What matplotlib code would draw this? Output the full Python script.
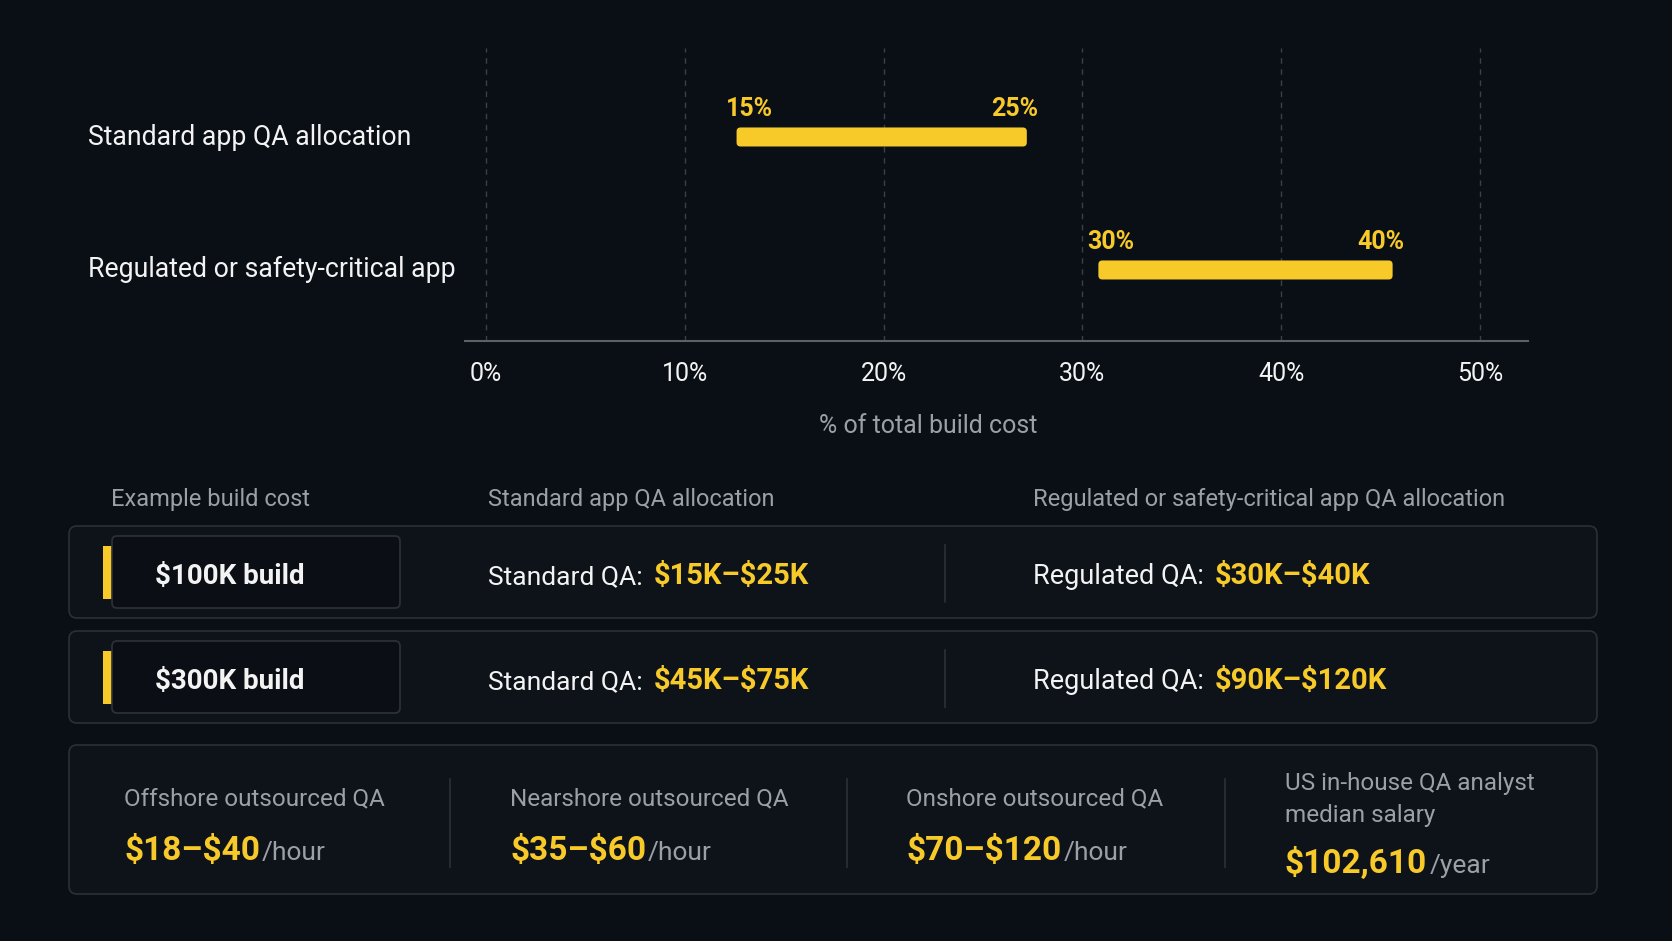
import matplotlib
matplotlib.use('Agg')
import matplotlib.pyplot as plt
from matplotlib.patches import FancyBboxPatch, Rectangle

W, H = 1672, 941

# range chart
categories = ['Standard app QA allocation', 'Regulated or safety-critical app']
range_lo = [12.6, 30.8]   # where the bars are drawn in the picture
range_hi = [27.2, 45.6]
lo_labels = ['15%', '30%']
hi_labels = ['25%', '40%']
x_ticks = [0, 10, 20, 30, 40, 50]
x_title = '% of total build cost'

# example build table
table_headers = ['Example build cost', 'Standard app QA allocation',
                 'Regulated or safety-critical app QA allocation']
builds = ['$100K build', '$300K build']
standard_qa = ['$15K–$25K', '$45K–$75K']
regulated_qa = ['$30K–$40K', '$90K–$120K']

# rate cards
rate_titles = ['Offshore outsourced QA', 'Nearshore outsourced QA',
               'Onshore outsourced QA', 'US in-house QA analyst\nmedian salary']
rate_values = ['$18–$40', '$35–$60', '$70–$120', '$102,610']
rate_units = ['/hour', '/hour', '/hour', '/year']

BG = '#0a0e15'
PANEL = '#0e131a'
EDGE = '#2a3038'
YELLOW = '#f7ca2a'
WHITE = '#f3f3f3'
GRAY = '#9ba0a8'

plt.rcParams['font.family'] = ['Roboto', 'DejaVu Sans']
plt.rcParams['text.parse_math'] = False  # dollar signs are plain text here

fig = plt.figure(figsize=(W / 100, H / 100), dpi=100, facecolor=BG)

# overlay in pixel coordinates for the panels and free text
ov = fig.add_axes([0, 0, 1, 1])
ov.set_xlim(0, W)
ov.set_ylim(H, 0)
ov.axis('off')

ax = fig.add_axes([465 / W, 1 - 341 / H, 1063 / W, 293 / H])
ax.set_facecolor('none')
xlim = (-1.06, 52.41)
ylim = (1.534, -0.669)
ax.set_xlim(*xlim)
ax.set_ylim(*ylim)

bar_h = 0.143
px_x = 1063 / (xlim[1] - xlim[0])
px_y = 293 / (ylim[0] - ylim[1])
bars = ax.barh(range(len(categories)), [h - l for l, h in zip(range_lo, range_hi)],
               left=range_lo, height=bar_h, color=YELLOW)
for b in bars:
    b.set_visible(False)
    ax.add_patch(FancyBboxPatch((b.get_x(), b.get_y()), b.get_width(), b.get_height(),
                                boxstyle='round,pad=0,rounding_size=%f' % (4 / px_x),
                                mutation_aspect=px_x / px_y, fc=YELLOW, ec='none', zorder=3))

for i in range(len(categories)):
    top = i - bar_h / 2
    ax.annotate(lo_labels[i], xy=(range_lo[i], top), xytext=(-8, 8.6),
                textcoords='offset points', ha='left', va='baseline',
                color=YELLOW, fontsize=18, fontweight='bold')
    ax.annotate(hi_labels[i], xy=(range_hi[i], top), xytext=(8.5, 8.6),
                textcoords='offset points', ha='right', va='baseline',
                color=YELLOW, fontsize=18, fontweight='bold')

ax.set_xticks(x_ticks)
ax.set_xticklabels(['%d%%' % t for t in x_ticks])
ax.set_yticks([])
ax.grid(axis='x', color='#3a3f48', linestyle=(0, (4, 4)), linewidth=1)
ax.set_axisbelow(True)
ax.tick_params(axis='x', length=0, pad=15, labelsize=18, labelcolor=WHITE)
for s in ['top', 'left', 'right']:
    ax.spines[s].set_visible(False)
ax.spines['bottom'].set_color('#5b616b')
ax.spines['bottom'].set_linewidth(1.5)

cat_base = [145, 277]
for name, yb in zip(categories, cat_base):
    ov.text(88, yb, name, color=WHITE, fontsize=19.2, va='baseline', ha='left')
ov.text(928, 426, x_title, color=GRAY, fontsize=18, ha='center', va='center')


def put_after(t, s, gap, y, **kw):
    r = fig.canvas.get_renderer()
    bb = t.get_window_extent(r)
    x = ov.transData.inverted().transform((bb.x1, 0))[0]
    return ov.text(x + gap, y, s, va='baseline', ha='left', **kw)


# table
for x, h in zip([111, 488, 1033], table_headers):
    ov.text(x, 499, h, color=GRAY, fontsize=17, va='center', ha='left')

for i in range(len(builds)):
    top = 526 + 105 * i
    ov.add_patch(FancyBboxPatch((69, top), 1528, 92, boxstyle='round,pad=0,rounding_size=8',
                                fc=PANEL, ec=EDGE, lw=1.2))
    ov.add_patch(Rectangle((103, top + 20), 9, 53, fc=YELLOW, ec='none'))
    ov.add_patch(FancyBboxPatch((112, top + 10), 288, 72, boxstyle='round,pad=0,rounding_size=5',
                                fc='#0b0f15', ec='#2d323b', lw=1.2))
    ov.plot([945, 945], [top + 19, top + 76], color=EDGE, lw=1.2)
    yb = top + 58
    ov.text(155, yb, builds[i], color=WHITE, fontsize=20, fontweight='bold', va='baseline')
    t = ov.text(488, yb, 'Standard QA:', color=WHITE, fontsize=19, va='baseline')
    put_after(t, standard_qa[i], 11, yb, color=YELLOW, fontsize=21, fontweight='bold')
    t = ov.text(1033, yb, 'Regulated QA:', color=WHITE, fontsize=19.5, va='baseline')
    put_after(t, regulated_qa[i], 11, yb, color=YELLOW, fontsize=21, fontweight='bold')

# rate cards
ov.add_patch(FancyBboxPatch((69, 745), 1528, 149, boxstyle='round,pad=0,rounding_size=8',
                            fc=PANEL, ec=EDGE, lw=1.2))
for x in [450, 847, 1225]:
    ov.plot([x, x], [779, 867], color=EDGE, lw=1.2)

col_x = [124, 510, 906, 1285]
for j in range(len(rate_titles)):
    lines = rate_titles[j].split('\n')
    if len(lines) > 1:
        first, vb = 790, 873
    else:
        first, vb = 805, 860
    for k, line in enumerate(lines):
        ov.text(col_x[j], first + 32 * k, line, color=GRAY, fontsize=17.5, va='baseline')
    t = ov.text(col_x[j], vb, rate_values[j], color=YELLOW, fontsize=24, fontweight='bold',
                va='baseline')
    put_after(t, rate_units[j], 2, vb, color=GRAY, fontsize=19)

fig.savefig('out.png', dpi=100, facecolor=BG)
